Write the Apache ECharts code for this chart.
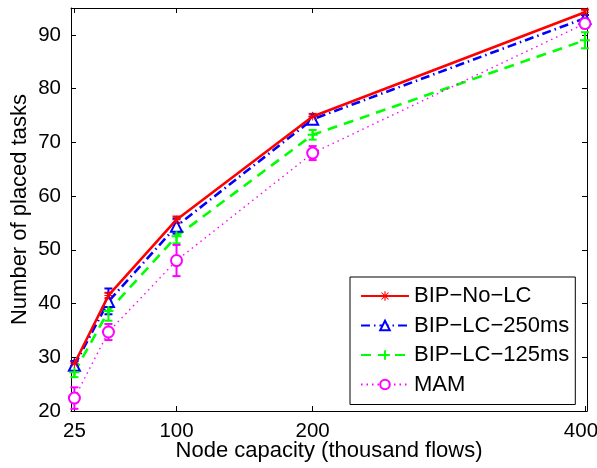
<!DOCTYPE html>
<html>
<head>
<meta charset="utf-8">
<script src="https://cdn.jsdelivr.net/npm/echarts@6/dist/echarts.min.js"></script>
<style>html,body{margin:0;padding:0;background:#fff;}#c{width:597px;height:468px;}</style>
</head>
<body>
<div id="c"></div>
<script>
const xValues = [25, 50, 100, 200, 400];
const xTicks = [25, 100, 200, 400];
const yTicks = [20, 30, 40, 50, 60, 70, 80, 90];
const seriesNames = ['BIP\u2212No\u2212LC', 'BIP\u2212LC\u2212250ms', 'BIP\u2212LC\u2212125ms', 'MAM'];
const noLC = [28.8, 41.5, 55.6, 74.8, 94.2];
const noLCErr = [0.4, 0.5, 0.6, 0.5, 0.5];
const lc250 = [28.5, 40.4, 54.4, 74.3, 93.1];
const lc250Err = [0.8, 2.4, 1.4, 0.5, 0.6];
const lc125 = [27.2, 38.6, 52.5, 71.4, 89.0];
const lc125Err = [0.9, 1.8, 1.3, 0.9, 1.5];
const mam = [22.4, 34.7, 48.0, 68.0, 92.1];
const mamErr = [2.0, 1.5, 2.9, 1.3, 0.8];

const colors = ['#ff0000', '#0000ff', '#00ff00', '#ff00ff'];
const F = 'Liberation Sans, Arial, Helvetica, sans-serif';

function pairs(vals){ return xValues.map((x,i)=>[x, vals[i]]); }
function errData(vals, errs){ return xValues.map((x,i)=>[x, vals[i]-errs[i], vals[i]+errs[i]]); }
function errSeries(vals, errs, color, w){
  return {
    type: 'custom', silent: true, z: 3,
    data: errData(vals, errs),
    renderItem: function(params, api){
      const x = api.value(0);
      const lo = api.coord([x, api.value(1)]);
      const hi = api.coord([x, api.value(2)]);
      const c = 4;
      const st = {stroke: color, lineWidth: w, fill: null};
      return {type:'group', children:[
        {type:'line', shape:{x1:lo[0], y1:lo[1], x2:hi[0], y2:hi[1]}, style:st},
        {type:'line', shape:{x1:lo[0]-c, y1:lo[1], x2:lo[0]+c, y2:lo[1]}, style:st},
        {type:'line', shape:{x1:hi[0]-c, y1:hi[1], x2:hi[0]+c, y2:hi[1]}, style:st}
      ]};
    }
  };
}
const starPath = 'path://M4.4,0H5.6V3.7L8.3,1L9,1.7L6.3,4.4H10V5.6H6.3L9,8.3L8.3,9L5.6,6.3V10H4.4V6.3L1.7,9L1,8.3L3.7,5.6H0V4.4H3.7L1,1.7L1.7,1L4.4,3.7Z';
const plusPath = 'path://M4,0H6V4H10V6H6V10H4V6H0V4H4Z';

const chart = echarts.init(document.getElementById('c'), null, {renderer:'canvas'});
const axisLineStyle = {color:'#000', width:1};
chart.setOption({
  animation: false,
  backgroundColor: '#fff',
  grid: {left: 71, right: 10, top: 8, bottom: 57, containLabel: false, outerBoundsMode: 'none'},
  xAxis: [{
    type: 'value', min: 22.5, max: 401.5, position: 'bottom',
    name: 'Node capacity (thousand flows)', nameLocation: 'middle', nameGap: 29, nameMoveOverlap: false,
    nameTextStyle: {fontFamily: F, fontSize: 22, color: '#000'},
    axisLine: {show: true, lineStyle: axisLineStyle},
    axisTick: {show: true, inside: true, length: 5, customValues: xTicks, lineStyle: {color:'#000'}},
    axisLabel: {customValues: xTicks, fontFamily: F, fontSize: 20.5, color: '#000', margin: 10,
      formatter: function(v){ return v === 400 ? '{r|400}' : String(v); },
      rich: {r: {fontFamily: F, fontSize: 20.5, color: '#000', padding: [0, 8, 0, 0]}}},
    splitLine: {show: false}
  },{
    type: 'value', min: 22.5, max: 401.5, position: 'top',
    axisLine: {show: true, onZero: false, lineStyle: axisLineStyle},
    axisTick: {show: true, inside: true, length: 5, customValues: xTicks, lineStyle: {color:'#000'}},
    axisLabel: {show: false}, splitLine: {show: false}
  }],
  yAxis: [{
    type: 'value', min: 20, max: 95, position: 'left',
    name: 'Number of placed tasks', nameLocation: 'middle', nameGap: 40, nameMoveOverlap: false,
    nameTextStyle: {fontFamily: F, fontSize: 22, color: '#000'},
    axisLine: {show: true, lineStyle: axisLineStyle},
    axisTick: {show: true, inside: true, length: 5, customValues: yTicks, lineStyle: {color:'#000'}},
    axisLabel: {customValues: yTicks, fontFamily: F, fontSize: 20.5, color: '#000', margin: 10},
    splitLine: {show: false}
  },{
    type: 'value', min: 20, max: 95, position: 'right',
    axisLine: {show: true, onZero: false, lineStyle: axisLineStyle},
    axisTick: {show: true, inside: true, length: 5, customValues: yTicks, lineStyle: {color:'#000'}},
    axisLabel: {show: false}, splitLine: {show: false}
  }],
  legend: {
    left: 350, top: 277, orient: 'vertical',
    backgroundColor: '#fff', borderColor: '#000', borderWidth: 1,
    padding: [8, 6, 9, 10], itemGap: 7.5,
    itemWidth: 48, itemHeight: 12,
    textStyle: {fontFamily: F, fontSize: 22, lineHeight: 22, color: '#000'},
    data: seriesNames
  },
  series: [
    {name: seriesNames[0], type: 'line', data: pairs(noLC), z: 5,
     symbol: starPath, symbolSize: 8, itemStyle: {color: colors[0]},
     lineStyle: {color: colors[0], width: 2.6, type: 'solid'}},
    errSeries(noLC, noLCErr, colors[0], 2),
    {name: seriesNames[1], type: 'line', data: pairs(lc250), z: 4,
     symbol: 'triangle', symbolSize: 11, itemStyle: {color: '#fff', borderColor: colors[1], borderWidth: 2},
     lineStyle: {color: colors[1], width: 2.6, type: [9, 4, 1.5, 4]}},
    errSeries(lc250, lc250Err, colors[1], 2),
    {name: seriesNames[2], type: 'line', data: pairs(lc125), z: 4,
     symbol: plusPath, symbolSize: 10, itemStyle: {color: colors[2]},
     lineStyle: {color: colors[2], width: 2.6, type: [10, 7]}},
    errSeries(lc125, lc125Err, colors[2], 2),
    {name: seriesNames[3], type: 'line', data: pairs(mam), z: 4,
     symbol: 'circle', symbolSize: 11, itemStyle: {color: '#fff', borderColor: colors[3], borderWidth: 2},
     lineStyle: {color: colors[3], width: 1.4, type: [1.5, 4]}},
    errSeries(mam, mamErr, colors[3], 2)
  ]
});
</script>
</body>
</html>
